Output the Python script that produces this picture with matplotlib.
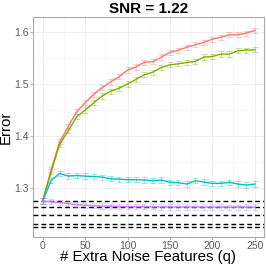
import numpy as np
from matplotlib import pyplot as plt
from matplotlib.ticker import MultipleLocator

plt.rcParams['font.family'] = ['Liberation Sans', 'DejaVu Sans']

q = [0, 10, 20, 30, 40, 50, 60, 70, 80, 90, 100, 110, 120,
     130, 140, 150, 160, 170, 180, 190, 200, 210, 220, 230, 240, 250]

err_red = [1.275, 1.336, 1.389, 1.418, 1.447, 1.464, 1.480, 1.493, 1.504, 1.514, 1.527, 1.533, 1.542,
           1.543, 1.552, 1.561, 1.565, 1.571, 1.5756, 1.580, 1.5865, 1.590, 1.5948, 1.5948, 1.598, 1.603]
err_green = [1.275, 1.332, 1.384, 1.410, 1.437, 1.450, 1.464, 1.477, 1.486, 1.492, 1.500, 1.509, 1.518,
             1.523, 1.532, 1.537, 1.539, 1.5415, 1.5435, 1.552, 1.553, 1.5577, 1.5577, 1.564, 1.5653, 1.566]
err_cyan = [1.275, 1.315, 1.328, 1.323, 1.324, 1.323, 1.322, 1.321, 1.318, 1.317, 1.316, 1.316, 1.3155,
            1.314, 1.3154, 1.311, 1.3103, 1.3077, 1.314, 1.3115, 1.309, 1.309, 1.311, 1.3077, 1.3058, 1.3077]
err_purple = [1.275, 1.2735, 1.272, 1.270, 1.268, 1.267, 1.266, 1.2655, 1.265, 1.2645, 1.264, 1.264, 1.2638,
              1.2638, 1.2636, 1.2636, 1.2635, 1.2635, 1.2636, 1.2634, 1.2634, 1.2635, 1.2633, 1.2633, 1.2634, 1.2634]
baselines = [1.2756, 1.2640, 1.2480, 1.2308, 1.2244]

series = [(err_red, '#F8766D'), (err_green, '#7CAE00'),
          (err_cyan, '#00BFC4'), (err_purple, '#C77CFF')]

fig = plt.figure(figsize=(2.66, 2.66), dpi=100)
ax = fig.add_axes([0.124, 0.109, 0.8685, 0.827])

for h in baselines:
    ax.axhline(h, color='black', lw=1.0, ls=(0, (3.5, 2.2)), zorder=3)

for vals, col in series:
    ax.errorbar(q, vals, yerr=0.005, fmt='none', ecolor=col, elinewidth=0.6,
                capsize=2, capthick=0.6, alpha=0.45, zorder=4)
    ax.plot(q, vals, color=col, lw=1.0, zorder=5)

ax.set_xlim(-11.5, 261)
ax.set_ylim(1.2058, 1.629)
ax.xaxis.set_major_locator(MultipleLocator(50))
ax.xaxis.set_minor_locator(MultipleLocator(25))
ax.yaxis.set_major_locator(MultipleLocator(0.1))
ax.yaxis.set_minor_locator(MultipleLocator(0.05))
ax.grid(which='major', color='#EBEBEB', lw=0.6)
ax.grid(which='minor', color='#F4F4F4', lw=0.4)
ax.set_axisbelow(True)
ax.tick_params(which='major', length=2, width=0.5, color='#999999',
               labelsize=7.5, labelcolor='#5A5A5A', pad=1)
ax.tick_params(which='minor', length=0)
for s in ax.spines.values():
    s.set_color('#AAAAAA')
    s.set_linewidth(0.8)

ax.set_title('SNR = 1.22', fontsize=11, fontweight='bold', pad=3)
ax.set_xlabel('# Extra Noise Features (q)', fontsize=10.8, labelpad=-1)
ax.set_ylabel('Error', fontsize=10.8, labelpad=1)

fig.savefig('out.png', dpi=100)
